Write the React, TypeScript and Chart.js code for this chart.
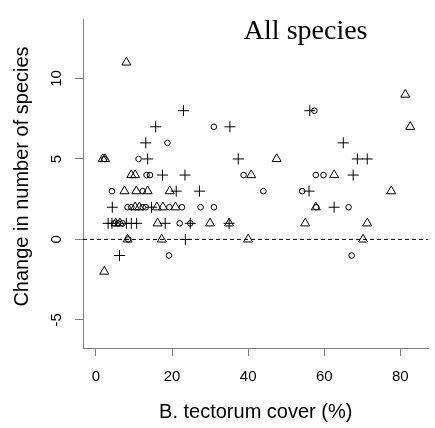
import React, { useEffect, useRef } from "react";
import { Chart, registerables } from "chart.js";

Chart.register(...registerables);

const TITLE = "All species";
const X_TITLE = "B. tectorum cover (%)";
const Y_TITLE = "Change in number of species";
const X_TICKS = [0, 20, 40, 60, 80];
const Y_TICKS = [-5, 0, 5, 10];
const X_MIN = -3.4;
const X_MAX = 87.4;
const Y_MIN = -6.75;
const Y_MAX = 13.7;
const REF_Y = 0;

// Triangles
const triX = [8, 81.3, 82.6, 1.8, 2.4, 47.5, 9.3, 10.3, 40.8, 62.6, 7.5, 10.6, 13.6, 19.4, 77.6, 10.3, 11.4, 16, 17.6, 20.9, 57.8, 5.2, 6.3, 16.2, 30, 35, 55, 71.3, 8.3, 17.3, 40, 70.2, 2.2];
const triY = [11, 9, 7, 5, 5, 5, 4, 4, 4, 4, 3, 3, 3, 3, 3, 2, 2, 2, 2, 2, 2, 1, 1, 1, 1, 1, 1, 1, 0, 0, 0, 0, -2];

// Plus signs
const plusX = [23, 56.2, 15.7, 35.2, 13.1, 65, 13.6, 37.4, 68.7, 71.3, 17.5, 23.4, 67.6, 21.1, 27.2, 56, 4.3, 14.6, 62.6, 3.2, 4.2, 8, 9.3, 10.7, 18.2, 24.8, 35, 23.5, 6.2];
const plusY = [8, 8, 7, 7, 6, 6, 5, 5, 5, 5, 4, 4, 4, 3, 3, 3, 2, 2, 2, 1, 1, 1, 1, 1, 1, 1, 1, 0, -1];

// Circles
const circX = [57.4, 31, 18.8, 2.2, 11.2, 13.3, 14.2, 38.8, 57.8, 59.8, 4.2, 12.3, 44, 54.2, 8.3, 9.3, 12.3, 13.1, 19.3, 22.6, 27.5, 31, 66.4, 57.9, 4.8, 5.8, 7, 22, 24.8, 8.5, 19.2, 67.2];
const circY = [8, 7, 6, 5, 5, 4, 4, 4, 4, 4, 3, 3, 3, 3, 2, 2, 2, 2, 2, 2, 2, 2, 2, 2, 1, 1, 1, 1, 1, 0, -1, -1];

const toPts = (xs: number[], ys: number[]) => xs.map((x, i) => ({ x, y: ys[i] }));

const SANS = "'Liberation Sans', Arial, Helvetica, sans-serif";
const AXIS_GRAY = "#808080";

const textPlugin = {
  id: "innerTexts",
  afterDraw(chart: any) {
    const { ctx, chartArea } = chart;
    ctx.save();
    ctx.font = "28px 'Liberation Serif', 'Times New Roman', serif";
    ctx.fillStyle = "#000";
    ctx.textAlign = "right";
    ctx.textBaseline = "alphabetic";
    ctx.fillText(TITLE, chartArea.right - 61, chartArea.top + 20);
    ctx.restore();

    ctx.save();
    ctx.font = `20px ${SANS}`;
    ctx.fillStyle = "#000";
    ctx.textAlign = "center";
    ctx.textBaseline = "middle";
    ctx.translate(chartArea.left - 61, (chartArea.top + chartArea.bottom) / 2 - 7);
    ctx.rotate(-Math.PI / 2);
    ctx.fillText(Y_TITLE, 0, 0);
    ctx.restore();
  },
};

export default function App() {
  const ref = useRef<HTMLCanvasElement | null>(null);

  useEffect(() => {
    if (!ref.current) return;
    const chart = new Chart(ref.current, {
      type: "scatter",
      data: {
        datasets: [
          {
            label: "ref",
            data: [
              { x: X_MIN, y: REF_Y },
              { x: X_MAX, y: REF_Y },
            ],
            showLine: true,
            pointRadius: 0,
            borderColor: "#000",
            borderWidth: 1,
            borderDash: [4, 3],
            backgroundColor: "transparent",
          } as any,
          {
            label: "triangles",
            data: toPts(triX, triY),
            pointStyle: "triangle",
            pointRadius: 5.2,
            borderColor: "#000",
            borderWidth: 1,
            backgroundColor: "transparent",
          },
          {
            label: "plus",
            data: toPts(plusX, plusY),
            pointStyle: "cross",
            pointRadius: 5.5,
            borderColor: "#000",
            borderWidth: 1,
            backgroundColor: "transparent",
          },
          {
            label: "circles",
            data: toPts(circX, circY),
            pointStyle: "circle",
            pointRadius: 2.8,
            borderColor: "#000",
            borderWidth: 1,
            backgroundColor: "transparent",
          },
        ],
      },
      options: {
        responsive: false,
        animation: false,
        events: [],
        layout: { padding: { top: 8, right: 2, left: 0, bottom: 0 } },
        plugins: {
          legend: { display: false },
          tooltip: { enabled: false },
          title: { display: false },
        },
        scales: {
          x: {
            type: "linear",
            min: X_MIN,
            max: X_MAX,
            afterBuildTicks: (scale: any) => {
              scale.ticks = X_TICKS.map((v) => ({ value: v }));
            },
            afterFit: (scale: any) => {
              scale.height = 80;
            },
            grid: {
              drawOnChartArea: false,
              drawTicks: true,
              tickLength: 8,
              color: AXIS_GRAY,
              tickColor: AXIS_GRAY,
            },
            border: { display: true, color: AXIS_GRAY, width: 1 },
            ticks: {
              color: "#000",
              font: { family: SANS, size: 15 },
              padding: 12,
              maxRotation: 0,
              minRotation: 0,
            },
            title: {
              display: true,
              text: X_TITLE,
              color: "#000",
              font: { family: SANS, size: 20 },
              padding: { top: 0, bottom: 4 },
            },
          },
          y: {
            type: "linear",
            min: Y_MIN,
            max: Y_MAX,
            afterBuildTicks: (scale: any) => {
              scale.ticks = Y_TICKS.map((v) => ({ value: v }));
            },
            afterFit: (scale: any) => {
              scale.width = 83;
            },
            grid: {
              drawOnChartArea: false,
              drawTicks: true,
              tickLength: 8,
              color: AXIS_GRAY,
              tickColor: AXIS_GRAY,
            },
            border: { display: true, color: AXIS_GRAY, width: 1 },
            ticks: {
              color: "#000",
              font: { family: SANS, size: 15 },
              padding: 10,
              minRotation: 90,
              maxRotation: 90,
              crossAlign: "center",
            },
            title: { display: false },
          },
        },
      },
      plugins: [textPlugin],
    } as any);
    return () => chart.destroy();
  }, []);

  return (
    <div style={{ position: "absolute", left: 0, top: 0, width: 435, height: 428, background: "#fff" }}>
      <canvas ref={ref} width={435} height={428} style={{ display: "block" }} />
    </div>
  );
}
